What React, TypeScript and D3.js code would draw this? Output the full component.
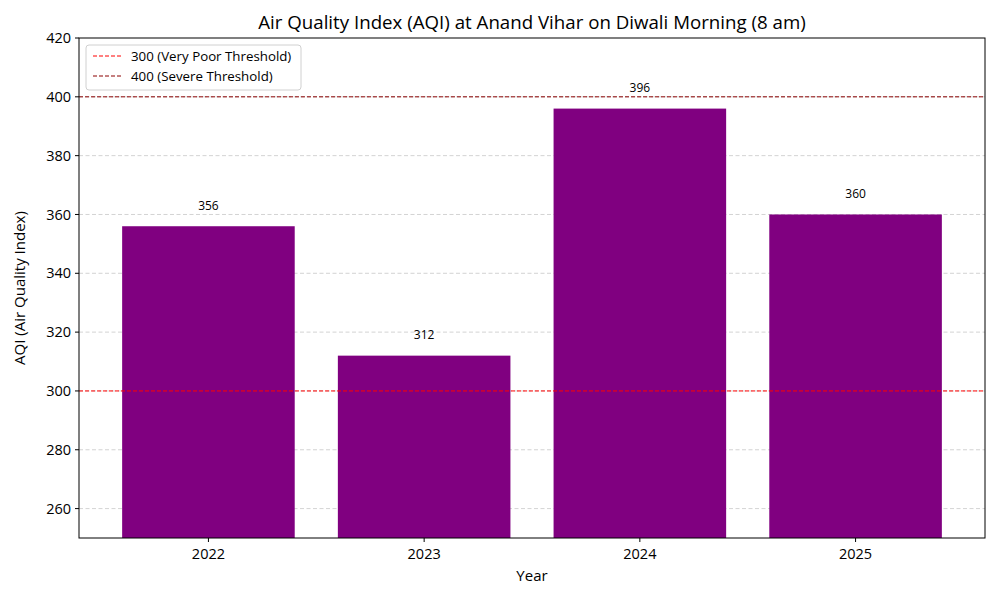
import React from 'react';
import * as d3 from 'd3';

const years = ['2022', '2023', '2024', '2025'];
const aqi = [356, 312, 396, 360];
const yTicks = [260, 280, 300, 320, 340, 360, 380, 400, 420];
const thresholds = [
    { value: 300, label: '300 (Very Poor Threshold)', color: '#ff0000' },
    { value: 400, label: '400 (Severe Threshold)', color: '#8b0000' },
];

const W = 1000;
const H = 600;
const margin = { top: 38, right: 15, bottom: 62, left: 79 };
const FONT = '"Open Sans", sans-serif';

export default function App() {
    const iw = W - margin.left - margin.right;
    const ih = H - margin.top - margin.bottom;

    const x = d3.scaleBand<string>()
        .domain(years)
        .range([0, iw])
        .paddingInner(0.2)
        .paddingOuter(0.2);

    const y = d3.scaleLinear().domain([250, 420]).range([ih, 0]);

    return (
        <svg width={W} height={H} style={{ position: 'absolute', left: 0, top: 0, fontFamily: FONT }}>
            <rect width={W} height={H} fill="#fff" />
            <g transform={`translate(${margin.left},${margin.top})`}>
                {/* grid */}
                {yTicks.filter(t => t > 250 && t < 420).map(t => (
                    <line key={t} x1={0} x2={iw} y1={y(t)} y2={y(t)}
                        stroke="#b0b0b0" strokeOpacity={0.7} strokeDasharray="4,2.5" strokeWidth={0.8} />
                ))}
                {/* bars */}
                {years.map((yr, i) => (
                    <rect key={yr} x={x(yr)} y={y(aqi[i])} width={x.bandwidth()} height={ih - y(aqi[i])} fill="#800080" />
                ))}
                {/* thresholds */}
                {thresholds.map(t => (
                    <line key={t.value} x1={0} x2={iw} y1={y(t.value)} y2={y(t.value)}
                        stroke={t.color} strokeWidth={1} strokeDasharray="4,2" />
                ))}
                {/* value labels */}
                {years.map((yr, i) => (
                    <text key={yr} x={(x(yr) ?? 0) + x.bandwidth() / 2} y={y(aqi[i] + 5) - 2}
                        textAnchor="middle" fontSize={12} fill="#000">{aqi[i]}</text>
                ))}
                {/* frame */}
                <rect x={0} y={0} width={iw} height={ih} fill="none" stroke="#000" strokeWidth={1} />
                {/* y axis */}
                {yTicks.map(t => (
                    <g key={t} transform={`translate(0,${y(t)})`}>
                        <line x1={-4} x2={0} stroke="#000" />
                        <text x={-8} dy="0.35em" textAnchor="end" fontSize={14.5}>{t}</text>
                    </g>
                ))}
                {/* x axis */}
                {years.map(yr => (
                    <g key={yr} transform={`translate(${(x(yr) ?? 0) + x.bandwidth() / 2},${ih})`}>
                        <line y1={0} y2={4} stroke="#000" />
                        <text y={21} textAnchor="middle" fontSize={14.5}>{yr}</text>
                    </g>
                ))}
                <text x={iw / 2} y={ih + 43} textAnchor="middle" fontSize={15}>Year</text>
                <text transform={`translate(${-54},${ih / 2}) rotate(-90)`} textAnchor="middle" fontSize={15}>AQI (Air Quality Index)</text>
                {/* legend */}
                <g transform="translate(7,7)">
                    <rect width={215} height={45} rx={3} fill="#fff" fillOpacity={0.8} stroke="#d0d0d0" />
                    {thresholds.map((t, i) => (
                        <g key={t.value} transform={`translate(0,${11 + i * 20})`}>
                            <line x1={7} x2={35} stroke={t.color} strokeDasharray="4,2" />
                            <text x={45} dy="0.35em" fontSize={13.3}>{t.label}</text>
                        </g>
                    ))}
                </g>
            </g>
            <text x={margin.left + iw / 2} y={29} textAnchor="middle" fontSize={18.7}>Air Quality Index (AQI) at Anand Vihar on Diwali Morning (8 am)</text>
        </svg>
    );
}
